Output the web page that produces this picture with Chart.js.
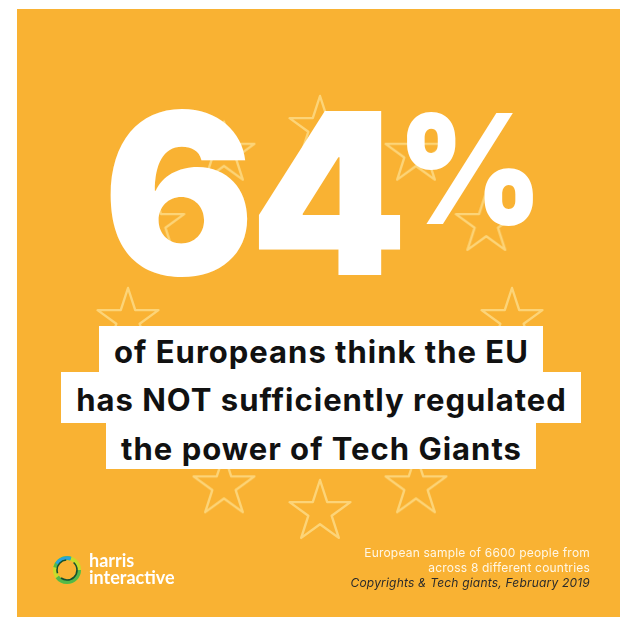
<!DOCTYPE html>
<html>
<head>
<meta charset="utf-8">
<script src="https://cdn.jsdelivr.net/npm/chart.js@4/dist/chart.umd.min.js"></script>
<style>
  html, body { margin: 0; padding: 0; background: #fff; }
  body { width: 620px; height: 617px; position: relative; overflow: hidden; font-family: Inter, "Noto Sans", sans-serif; }
  #panel { position: absolute; left: 17px; top: 9px; right: 0; bottom: 0; background: #f9b233; }
  #stars { position: absolute; left: 88px; top: 88px; }
  #big { position: absolute; left: 103px; top: 81px; font-weight: 900; font-size: 225px; line-height: 225px; color: #fff; letter-spacing: -5px; white-space: nowrap; }
  #pct { position: absolute; left: 397px; top: 93px; font-weight: 900; font-size: 152px; line-height: 152px; color: #fff; white-space: nowrap; transform: scaleX(0.92); transform-origin: left top; }
  .box { position: absolute; left: 0; width: 642px; text-align: center; }
  .box span { display: inline-block; background: #fff; color: #111; font-weight: 700; font-size: 31px; letter-spacing: 1px; padding: 0 14px 0 15px; white-space: nowrap; }
  #note { position: absolute; right: 30px; top: 545px; text-align: right; font-size: 12px; letter-spacing: 0.2px; line-height: 15px; color: #fff7e6; }
  #note i { color: #2b2b2b; }
  #logo { position: absolute; left: 52px; top: 555px; }
  #brand { position: absolute; left: 89px; top: 552px; color: #fff; font-family: Lato, sans-serif; font-weight: 700; font-size: 18px; line-height: 17px; }
</style>
</head>
<body>
<div id="panel"></div>
<canvas id="stars" width="464" height="464"></canvas>
<div id="big"></div>
<div id="pct">%</div>
<div id="lines"></div>
<svg id="logo" width="30" height="30" viewBox="0 0 30 30">
  <circle cx="15" cy="15" r="12" fill="none" stroke="#c9dc2a" stroke-width="4"/>
  <circle cx="15" cy="15" r="12" fill="none" stroke="#55b848" stroke-width="4" stroke-dasharray="30 10 20 15"/>
  <circle cx="15" cy="15" r="12" fill="none" stroke="#2aa4d8" stroke-width="3.5" stroke-dasharray="0 44 16 20"/>
  <circle cx="15" cy="15" r="10" fill="none" stroke="#14502f" stroke-width="1.6" stroke-dasharray="22 6 18 8"/>
</svg>
<div id="brand">harris<br>interactive</div>
<div id="note">European sample of 6600 people from<br>across 8 different countries<br><i>Copyrights &amp; Tech giants, February 2019</i></div>
<script>
// headline figure
let share = [64];
let headline = ["of Europeans think the EU", "has NOT sufficiently regulated", "the power of Tech Giants"];

// EU ring: 12 stars at equal level
let starSlots = ["I", "II", "III", "IV", "V", "VI", "VII", "VIII", "IX", "X", "XI", "XII"];
let ringLevel = [1, 1, 1, 1, 1, 1, 1, 1, 1, 1, 1, 1];

document.getElementById("big").textContent = String(share[0]);

// white label boxes
let boxTops = [326, 372, 423];
let boxHeights = [46, 51, 46];
let lines = document.getElementById("lines");
headline.forEach(function(txt, i) {
  let row = document.createElement("div");
  row.className = "box";
  row.style.top = boxTops[i] + "px";
  let span = document.createElement("span");
  span.textContent = txt;
  span.style.height = boxHeights[i] + "px";
  span.style.lineHeight = (boxHeights[i] + 5) + "px";
  row.appendChild(span);
  lines.appendChild(row);
});

// outlined star used as point style
function makeStar() {
  let c = document.createElement("canvas");
  c.width = 74;
  c.height = 74;
  let g = c.getContext("2d");
  let R = 32, r = 12.3, cx = 37, cy = 37;
  g.beginPath();
  for (let k = 0; k < 10; k++) {
    let rad = k % 2 === 0 ? R : r;
    let a = -Math.PI / 2 + k * Math.PI / 5;
    let px = cx + Math.cos(a) * rad;
    let py = cy + Math.sin(a) * rad;
    if (k === 0) g.moveTo(px, py); else g.lineTo(px, py);
  }
  g.closePath();
  g.lineJoin = "round";
  g.lineWidth = 2.4;
  g.strokeStyle = "#fcd478";
  g.stroke();
  return c;
}

let ctx = document.getElementById("stars").getContext("2d");
let chart = new Chart(ctx, {
  type: 'radar',
  data: {
    labels: starSlots,
    datasets: [{
      data: ringLevel,
      pointStyle: makeStar(),
      borderWidth: 0,
      borderColor: 'rgba(0,0,0,0)',
      backgroundColor: 'rgba(0,0,0,0)',
      fill: false,
      clip: false
    }]
  },
  options: {
    responsive: false,
    animation: false,
    layout: { padding: 40 },
    plugins: { legend: { display: false }, tooltip: { enabled: false } },
    scales: {
      r: {
        min: 0,
        max: 1,
        grid: { display: false },
        angleLines: { display: false },
        ticks: { display: false },
        pointLabels: { display: false }
      }
    }
  }
});
</script>
</body>
</html>
